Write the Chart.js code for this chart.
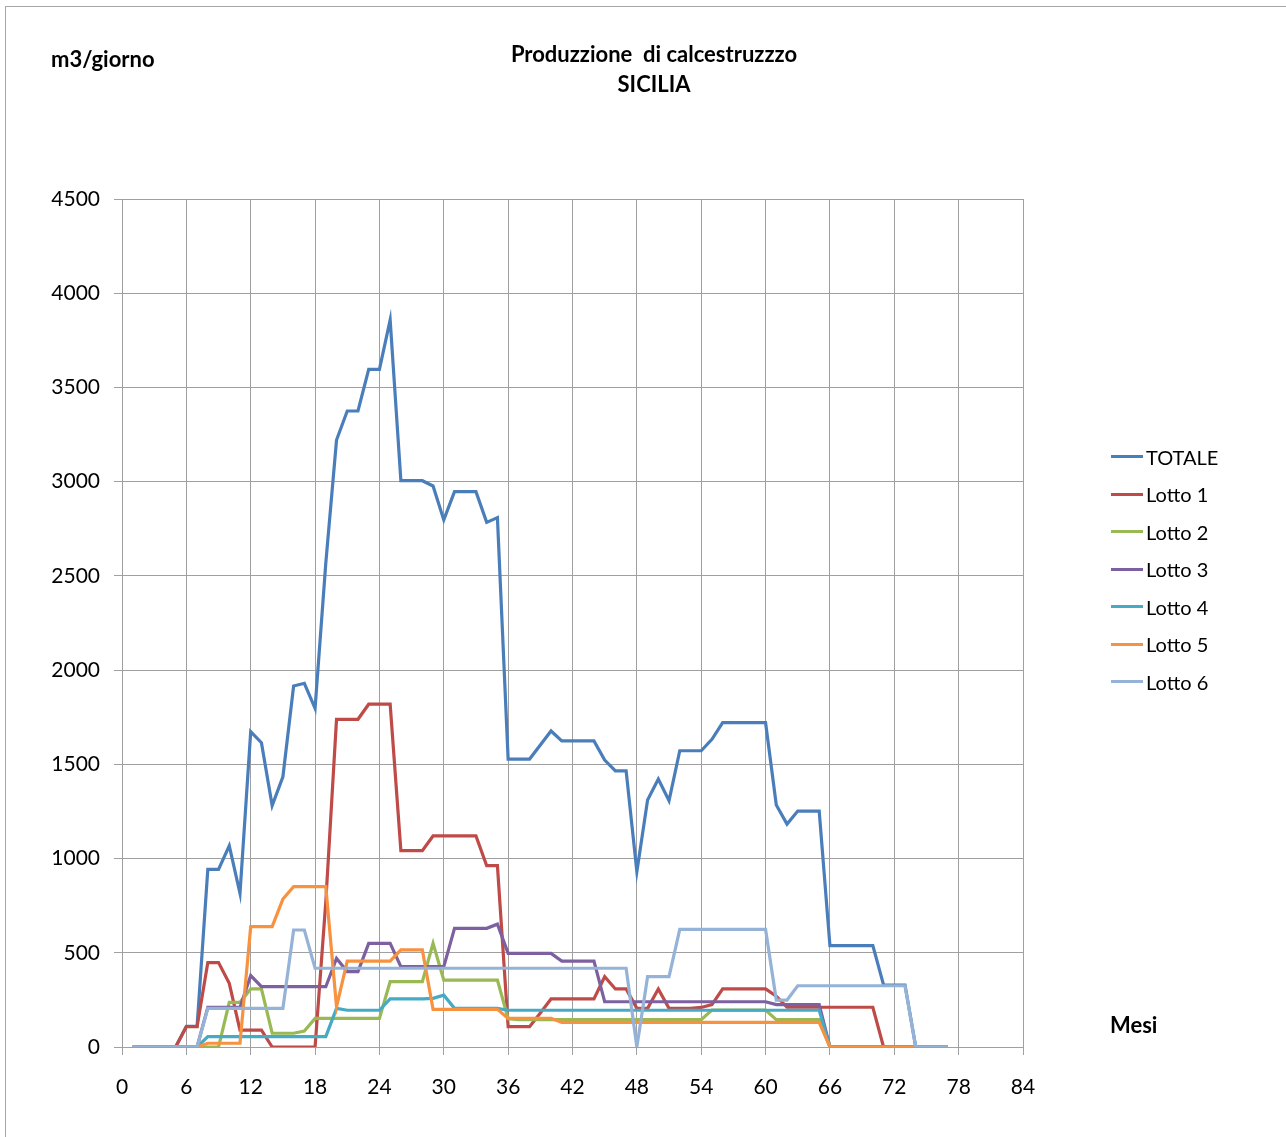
<!DOCTYPE html>
<html>
<head>
<meta charset="utf-8">
<script src="https://cdn.jsdelivr.net/npm/chart.js@4.4.1/dist/chart.umd.min.js"></script>
<style>
  html, body { margin: 0; padding: 0; background: #fff; overflow: hidden; }
  #wrap { position: relative; width: 1286px; height: 1137px; }
  #frame { position: absolute; left: 5px; top: 6px; width: 1300px; height: 1200px; border: 1px solid #a6a6a6; box-sizing: border-box; }
  #chart { position: absolute; left: 0; top: 0; }
  .txt { position: absolute; font-family: Lato, "Open Sans", sans-serif; color: #000; white-space: pre; line-height: 1; }
  .bold { font-weight: bold; }
  #legend { position: absolute; left: 1111px; top: 438px; }
  .row { display: flex; align-items: center; height: 37.5px; font-family: Lato, "Open Sans", sans-serif; font-size: 20px; }
  .swatch { width: 32px; height: 3px; margin-right: 3px; }
</style>
</head>
<body>
<div id="wrap">
  <div id="frame"></div>
  <canvas id="chart" width="1286" height="1137"></canvas>
  <div class="txt bold" style="left:51px; top:48px; font-size:22px;">m3/giorno</div>
  <div class="txt bold" style="left:454px; width:400px; top:43px; font-size:22px; text-align:center;">Produzzione  di calcestruzzzo</div>
  <div class="txt bold" style="left:454px; width:400px; top:73px; font-size:22px; text-align:center;">SICILIA</div>
  <div class="txt bold" style="left:1110px; top:1014px; font-size:22px;">Mesi</div>
  <div id="legend"></div>
</div>
<script>
document.addEventListener("DOMContentLoaded", function () {
    // months 1..77 on the x axis
    const months = Array.from({ length: 77 }, (_, i) => i + 1);
    const xTicks = [0, 6, 12, 18, 24, 30, 36, 42, 48, 54, 60, 66, 72, 78, 84];
    const yTicks = [0, 500, 1000, 1500, 2000, 2500, 3000, 3500, 4000, 4500];

    const seriesNames = ['TOTALE', 'Lotto 1', 'Lotto 2', 'Lotto 3', 'Lotto 4', 'Lotto 5', 'Lotto 6'];
    const seriesColors = ['#4a7ebb', '#be4b48', '#98b954', '#7d60a0', '#46aac5', '#f69240', '#95b3d7'];

    const totale = [
        0, 0, 0, 0, 0, 110, 110, 943, 943, 1068,
        815, 1673, 1615, 1281, 1434, 1916, 1930, 1797, 2568, 3221,
        3375, 3375, 3596, 3596, 3858, 3005, 3005, 3005, 2977, 2797,
        2947, 2947, 2947, 2784, 2809, 1528, 1528, 1528, 1603, 1677,
        1624, 1624, 1624, 1624, 1523, 1465, 1465, 930, 1311, 1422,
        1307, 1572, 1572, 1572, 1633, 1721, 1721, 1721, 1721, 1721,
        1284, 1183, 1252, 1252, 1252, 538, 538, 538, 538, 538,
        329, 329, 329, 0, 0, 0, 0
    ];
    const lotto1 = [
        0, 0, 0, 0, 0, 108, 108, 448, 448, 338,
        90, 90, 90, 0, 0, 0, 0, 0, 770, 1739,
        1739, 1739, 1819, 1819, 1819, 1042, 1042, 1042, 1120, 1120,
        1120, 1120, 1120, 962, 962, 108, 108, 108, 180, 255,
        255, 255, 255, 255, 373, 308, 308, 205, 205, 308,
        205, 205, 205, 210, 225, 308, 308, 308, 308, 308,
        270, 211, 211, 211, 211, 211, 211, 211, 211, 211,
        0, 0, 0, 0, 0, 0, 0
    ];
    const lotto2 = [
        0, 0, 0, 0, 0, 0, 0, 0, 0, 237,
        237, 308, 308, 73, 73, 73, 85, 152, 152, 152,
        152, 152, 152, 152, 347, 347, 347, 347, 550, 355,
        355, 355, 355, 355, 355, 150, 145, 145, 145, 145,
        145, 145, 145, 145, 145, 145, 145, 145, 145, 145,
        145, 145, 145, 145, 196, 196, 196, 196, 196, 196,
        145, 145, 145, 145, 145, 0, 0, 0, 0, 0,
        0, 0, 0, 0, 0, 0, 0
    ];
    const lotto3 = [
        0, 0, 0, 0, 0, 0, 0, 210, 210, 210,
        210, 379, 320, 320, 320, 320, 320, 320, 320, 470,
        400, 400, 550, 550, 550, 426, 426, 426, 426, 426,
        630, 630, 630, 630, 652, 497, 497, 497, 497, 497,
        456, 456, 456, 456, 240, 240, 240, 240, 240, 240,
        240, 240, 240, 240, 240, 240, 240, 240, 240, 240,
        225, 225, 225, 225, 225, 0, 0, 0, 0, 0,
        0, 0, 0, 0, 0, 0, 0
    ];
    const lotto4 = [
        0, 0, 0, 0, 0, 0, 0, 55, 55, 55,
        55, 55, 55, 55, 55, 55, 55, 55, 55, 205,
        195, 195, 195, 195, 255, 255, 255, 255, 258, 275,
        205, 205, 205, 205, 205, 195, 195, 195, 195, 195,
        195, 195, 195, 195, 195, 195, 195, 195, 195, 195,
        195, 195, 195, 195, 195, 195, 195, 195, 195, 195,
        195, 195, 195, 195, 195, 0, 0, 0, 0, 0,
        0, 0, 0, 0, 0, 0, 0
    ];
    const lotto5 = [
        0, 0, 0, 0, 0, 0, 0, 20, 20, 20,
        20, 639, 639, 639, 785, 851, 851, 851, 851, 214,
        456, 456, 456, 456, 456, 515, 515, 515, 200, 200,
        200, 200, 200, 200, 200, 152, 152, 152, 152, 152,
        131, 131, 131, 131, 131, 131, 131, 131, 131, 131,
        131, 131, 131, 131, 131, 131, 131, 131, 131, 131,
        131, 131, 131, 131, 131, 0, 0, 0, 0, 0,
        0, 0, 0, 0, 0, 0, 0
    ];
    const lotto6 = [
        0, 0, 0, 0, 0, 0, 0, 205, 205, 205,
        205, 205, 205, 205, 205, 621, 621, 418, 418, 418,
        418, 418, 418, 418, 418, 418, 418, 418, 418, 418,
        418, 418, 418, 418, 418, 418, 418, 418, 418, 418,
        418, 418, 418, 418, 418, 418, 418, 0, 373, 373,
        373, 624, 624, 624, 624, 624, 624, 624, 624, 624,
        249, 249, 325, 325, 325, 325, 325, 325, 325, 325,
        325, 325, 325, 0, 0, 0, 0
    ];
    const allSeries = [totale, lotto1, lotto2, lotto3, lotto4, lotto5, lotto6];

    const gridColor = '#a0a0a0';
    const tickFont = { family: 'Lato, "Open Sans", sans-serif', size: 21 };

    const datasets = allSeries.map(function (values, i) {
        return {
            label: seriesNames[i],
            data: values.map((v, j) => ({ x: months[j], y: v })),
            borderColor: seriesColors[i],
            backgroundColor: seriesColors[i],
            borderWidth: 3.2,
            pointRadius: 0,
            tension: 0,
            order: seriesNames.length - 1 - i   // last series drawn on top, like Excel
        };
    });

    const ctx = document.getElementById('chart').getContext('2d');
    new Chart(ctx, {
        type: 'line',
        data: { datasets: datasets },
        options: {
            responsive: false,
            animation: false,
            layout: { padding: { left: 0, top: 199, right: 263, bottom: 0 } },
            plugins: {
                legend: { display: false },
                title: { display: false },
                tooltip: { enabled: false }
            },
            scales: {
                x: {
                    type: 'linear',
                    min: 0,
                    max: 84,
                    afterBuildTicks: function (scale) {
                        scale.ticks = xTicks.map(v => ({ value: v }));
                    },
                    afterFit: function (scale) { scale.height = 90; },
                    ticks: { color: '#000', font: tickFont, padding: 20, maxRotation: 0,
                             callback: v => String(v) },
                    grid: { color: gridColor, lineWidth: 1, tickLength: 8 },
                    border: { color: gridColor, width: 1 }
                },
                y: {
                    min: 0,
                    max: 4500,
                    afterBuildTicks: function (scale) {
                        scale.ticks = yTicks.map(v => ({ value: v }));
                    },
                    afterFit: function (scale) { scale.width = 122; },
                    ticks: { color: '#000', font: tickFont, padding: 14,
                             callback: v => String(v) },
                    grid: { color: gridColor, lineWidth: 1, tickLength: 8 },
                    border: { color: gridColor, width: 1 }
                }
            }
        }
    });

    // legend on the right
    const legend = document.getElementById('legend');
    seriesNames.forEach(function (name, i) {
        const row = document.createElement('div');
        row.className = 'row';
        const sw = document.createElement('div');
        sw.className = 'swatch';
        sw.style.background = seriesColors[i];
        const label = document.createElement('span');
        label.textContent = name;
        row.appendChild(sw);
        row.appendChild(label);
        legend.appendChild(row);
    });
});
</script>
</body>
</html>
